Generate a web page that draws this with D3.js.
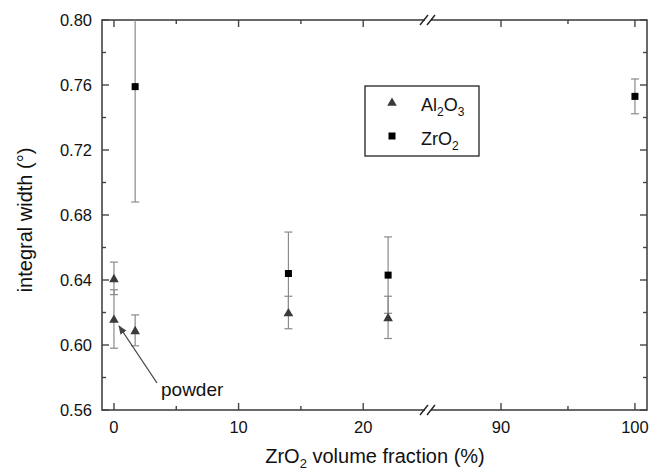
<!DOCTYPE html>
<html lang="en">
<head>
<meta charset="utf-8">
<script src="https://d3js.org/d3.v7.min.js"></script>
<title>integral width</title>
<style>
  body { margin: 0; background: #fff; }
  text { font-family: "Liberation Sans", Arial, sans-serif; fill: #111; }
</style>
</head>
<body>
<script>
// data
var alX   = [0, 0, 1.7, 14, 22];
var alY   = [0.641, 0.616, 0.609, 0.620, 0.617];
var alErr = [0.010, 0.018, 0.0095, 0.010, 0.013];

var zrX   = [1.7, 14, 22, 100];
var zrY   = [0.759, 0.644, 0.643, 0.753];
var zrErr = [0.071, 0.0255, 0.0235, 0.0107];

var yMajor = [0.56, 0.60, 0.64, 0.68, 0.72, 0.76, 0.80];
var yMinor = [0.58, 0.62, 0.66, 0.70, 0.74, 0.78];
var xMajorL = [0, 10, 20];
var xMinorL = [5, 15];
var xMajorR = [90, 100];
var xMinorR = [95];

var width = 653, height = 472;
var svg = d3.select("body").append("svg").attr("width", width).attr("height", height);

var pLeft = 102, pRight = 647, pTop = 20, pBottom = 410, brk = 428;

var y = d3.scaleLinear().domain([0.56, 0.80]).range([pBottom, pTop]);
// broken x axis: two linear pieces
var xL = d3.scaleLinear().domain([-0.96, 25.2]).range([pLeft, brk]);
var xR = d3.scaleLinear().domain([84.55, 100.9]).range([brk, pRight]);
function x(v) { return v < 50 ? xL(v) : xR(v); }

var axisColor = "#444";

svg.append("defs").append("clipPath").attr("id", "plot")
  .append("rect").attr("x", pLeft).attr("y", pTop).attr("width", pRight - pLeft).attr("height", pBottom - pTop);

// frame
svg.append("rect")
  .attr("x", pLeft).attr("y", pTop).attr("width", pRight - pLeft).attr("height", pBottom - pTop)
  .attr("fill", "none").attr("stroke", axisColor).attr("stroke-width", 1.6);

// ticks
var xMajor = xMajorL.concat(xMajorR), xMinor = xMinorL.concat(xMinorR);
var tk = svg.append("g").attr("stroke", axisColor).attr("stroke-width", 1.4);
xMajor.forEach(function(v) {
  tk.append("line").attr("x1", x(v)).attr("x2", x(v)).attr("y1", pBottom).attr("y2", pBottom - 7);
  tk.append("line").attr("x1", x(v)).attr("x2", x(v)).attr("y1", pTop).attr("y2", pTop + 7);
});
xMinor.forEach(function(v) {
  tk.append("line").attr("x1", x(v)).attr("x2", x(v)).attr("y1", pBottom).attr("y2", pBottom - 4);
  tk.append("line").attr("x1", x(v)).attr("x2", x(v)).attr("y1", pTop).attr("y2", pTop + 4);
});
yMajor.forEach(function(v) {
  tk.append("line").attr("x1", pLeft).attr("x2", pLeft + 7).attr("y1", y(v)).attr("y2", y(v));
  tk.append("line").attr("x1", pRight).attr("x2", pRight - 7).attr("y1", y(v)).attr("y2", y(v));
});
yMinor.forEach(function(v) {
  tk.append("line").attr("x1", pLeft).attr("x2", pLeft + 4).attr("y1", y(v)).attr("y2", y(v));
  tk.append("line").attr("x1", pRight).attr("x2", pRight - 4).attr("y1", y(v)).attr("y2", y(v));
});

// axis break marks
[pTop, pBottom].forEach(function(yy) {
  svg.append("rect").attr("x", brk - 3).attr("y", yy - 2).attr("width", 6).attr("height", 4).attr("fill", "#fff");
  [-4, 3].forEach(function(dx) {
    svg.append("line")
      .attr("x1", brk + dx - 4).attr("y1", yy + 5)
      .attr("x2", brk + dx + 4).attr("y2", yy - 5)
      .attr("stroke", "#222").attr("stroke-width", 1.4);
  });
});

// tick labels
svg.selectAll(".ylab").data(yMajor).enter().append("text")
  .attr("x", 92).attr("y", function(d) { return y(d) + 6; })
  .attr("text-anchor", "end").style("font-size", "16.5px")
  .text(function(d) { return d.toFixed(2); });
svg.selectAll(".xlab").data(xMajor).enter().append("text")
  .attr("x", function(d) { return x(d); }).attr("y", 433)
  .attr("text-anchor", "middle").style("font-size", "16.5px")
  .text(function(d) { return d; });

// axis titles
var xt = svg.append("text").attr("x", 375).attr("y", 463).attr("text-anchor", "middle").style("font-size", "20px");
xt.append("tspan").text("ZrO");
xt.append("tspan").attr("dy", 5).style("font-size", "13px").text("2");
xt.append("tspan").attr("dy", -5).text(" volume fraction (%)");

svg.append("text")
  .attr("transform", "translate(32,220) rotate(-90)")
  .attr("text-anchor", "middle").style("font-size", "20px")
  .text("integral width (°)");

// error bars
var plot = svg.append("g").attr("clip-path", "url(#plot)");
function errBars(xs, ys, es) {
  xs.forEach(function(v, i) {
    var cx = x(v), y1 = y(ys[i] - es[i]), y2 = y(ys[i] + es[i]);
    var g = plot.append("g").attr("stroke", "#8a8a8a").attr("stroke-width", 1.2);
    g.append("line").attr("x1", cx).attr("x2", cx).attr("y1", y1).attr("y2", y2);
    g.append("line").attr("x1", cx - 4).attr("x2", cx + 4).attr("y1", y1).attr("y2", y1);
    g.append("line").attr("x1", cx - 4).attr("x2", cx + 4).attr("y1", y2).attr("y2", y2);
  });
}
errBars(zrX, zrY, zrErr);
errBars(alX, alY, alErr);

var tri = d3.symbol().type(d3.symbolTriangle).size(40);
plot.selectAll(".al").data(alX).enter().append("path")
  .attr("d", tri)
  .attr("transform", function(d, i) { return "translate(" + x(d) + "," + (y(alY[i]) + 1) + ")"; })
  .attr("fill", "#3a3a3a");
plot.selectAll(".zr").data(zrX).enter().append("rect")
  .attr("x", function(d) { return x(d) - 3.5; })
  .attr("y", function(d, i) { return y(zrY[i]) - 3.5; })
  .attr("width", 7).attr("height", 7)
  .attr("fill", "#000");

// powder annotation
svg.append("defs").append("marker").attr("id", "arr")
  .attr("viewBox", "0 0 10 10").attr("refX", 9).attr("refY", 5)
  .attr("markerWidth", 7).attr("markerHeight", 7).attr("orient", "auto")
  .append("path").attr("d", "M0,1L10,5L0,9Z").attr("fill", "#444");
svg.append("line")
  .attr("x1", 157).attr("y1", 383).attr("x2", 119).attr("y2", 326)
  .attr("stroke", "#444").attr("stroke-width", 1.3).attr("marker-end", "url(#arr)");
svg.append("text").attr("x", 161).attr("y", 396).style("font-size", "19px").text("powder");

// legend
var lg = svg.append("g");
lg.append("rect").attr("x", 365).attr("y", 86).attr("width", 114).attr("height", 70)
  .attr("fill", "#fff").attr("stroke", "#222").attr("stroke-width", 1.3);
lg.append("path").attr("d", tri).attr("transform", "translate(392,103)").attr("fill", "#3a3a3a");
lg.append("rect").attr("x", 388.5).attr("y", 132.5).attr("width", 7).attr("height", 7).attr("fill", "#000");
var t1 = lg.append("text").attr("x", 421).attr("y", 111).style("font-size", "18px");
t1.append("tspan").text("Al");
t1.append("tspan").attr("dy", 5).style("font-size", "12px").text("2");
t1.append("tspan").attr("dy", -5).text("O");
t1.append("tspan").attr("dy", 5).style("font-size", "12px").text("3");
var t2 = lg.append("text").attr("x", 421).attr("y", 145).style("font-size", "18px");
t2.append("tspan").text("ZrO");
t2.append("tspan").attr("dy", 5).style("font-size", "12px").text("2");
</script>
</body>
</html>
